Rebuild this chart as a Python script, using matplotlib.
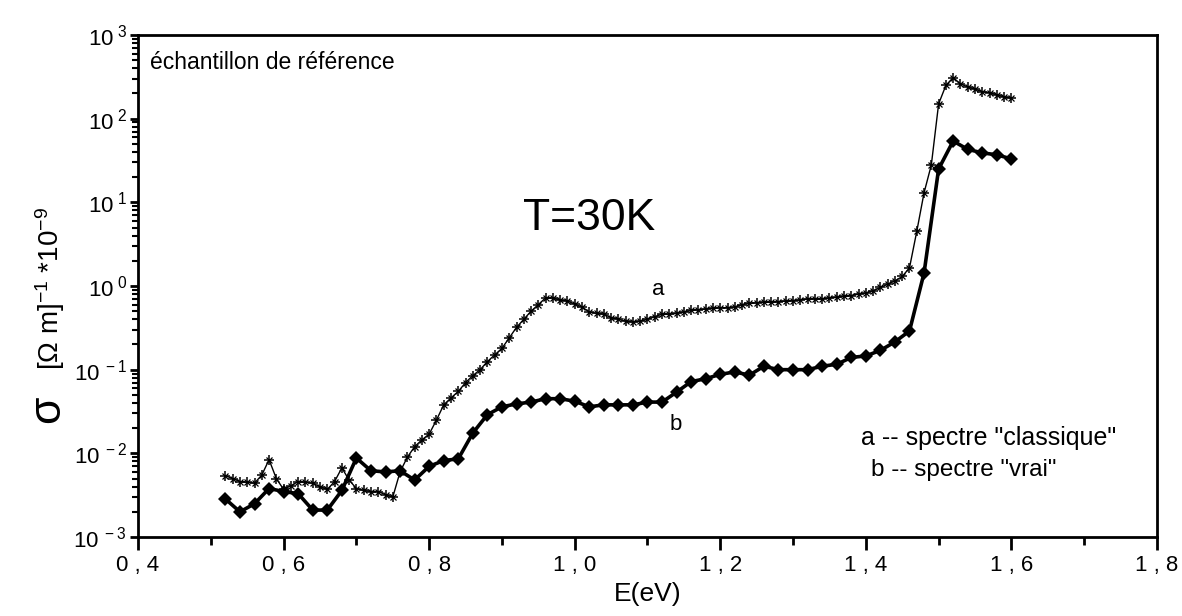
import numpy as np
import matplotlib
matplotlib.use("Agg")
import matplotlib.pyplot as plt
from matplotlib.ticker import FixedLocator, NullFormatter

plt.rcParams['font.family'] = ['Liberation Sans', 'DejaVu Sans']
plt.rcParams['mathtext.fontset'] = 'custom'
plt.rcParams['mathtext.rm'] = 'Liberation Sans'
plt.rcParams['mathtext.it'] = 'Liberation Sans:italic'

# ---- data ----
energy_a = [0.52, 0.53, 0.54, 0.55, 0.56, 0.57, 0.58, 0.59, 0.60, 0.61,
            0.62, 0.63, 0.64, 0.65, 0.66, 0.67, 0.68, 0.69, 0.70, 0.71,
            0.72, 0.73, 0.74, 0.75, 0.76, 0.77, 0.78, 0.79, 0.80, 0.81,
            0.82, 0.83, 0.84, 0.85, 0.86, 0.87, 0.88, 0.89, 0.90, 0.91,
            0.92, 0.93, 0.94, 0.95, 0.96, 0.97, 0.98, 0.99, 1.00, 1.01,
            1.02, 1.03, 1.04, 1.05, 1.06, 1.07, 1.08, 1.09, 1.10, 1.11,
            1.12, 1.13, 1.14, 1.15, 1.16, 1.17, 1.18, 1.19, 1.20, 1.21,
            1.22, 1.23, 1.24, 1.25, 1.26, 1.27, 1.28, 1.29, 1.30, 1.31,
            1.32, 1.33, 1.34, 1.35, 1.36, 1.37, 1.38, 1.39, 1.40, 1.41,
            1.42, 1.43, 1.44, 1.45, 1.46, 1.47, 1.48, 1.49, 1.50, 1.51,
            1.52, 1.53, 1.54, 1.55, 1.56, 1.57, 1.58, 1.59, 1.60]
sigma_a = [5.4e-3, 5.0e-3, 4.6e-3, 4.5e-3, 4.4e-3, 5.5e-3, 8.4e-3, 5.0e-3, 3.7e-3, 4.1e-3,
           4.6e-3, 4.5e-3, 4.4e-3, 4.0e-3, 3.7e-3, 4.6e-3, 6.7e-3, 4.8e-3, 3.8e-3, 3.6e-3,
           3.5e-3, 3.5e-3, 3.2e-3, 3.0e-3, 6.0e-3, 9.0e-3, 1.2e-2, 1.45e-2, 1.7e-2, 2.5e-2,
           3.8e-2, 4.6e-2, 5.5e-2, 7.0e-2, 8.5e-2, 0.10, 0.125, 0.15, 0.18, 0.24,
           0.32, 0.40, 0.50, 0.60, 0.72, 0.72, 0.68, 0.66, 0.61, 0.56,
           0.49, 0.47, 0.46, 0.42, 0.40, 0.38, 0.37, 0.38, 0.40, 0.43,
           0.46, 0.46, 0.47, 0.49, 0.51, 0.52, 0.53, 0.54, 0.55, 0.55,
           0.56, 0.60, 0.62, 0.63, 0.64, 0.64, 0.65, 0.66, 0.67, 0.68,
           0.70, 0.70, 0.70, 0.72, 0.73, 0.75, 0.77, 0.80, 0.82, 0.88,
           0.96, 1.05, 1.15, 1.30, 1.65, 4.5, 13.0, 28.0, 150.0, 250.0,
           310.0, 260.0, 240.0, 225.0, 210.0, 205.0, 192.0, 182.0, 175.0]

energy_b = [0.52, 0.54, 0.56, 0.58, 0.60, 0.62, 0.64, 0.66, 0.68, 0.70,
            0.72, 0.74, 0.76, 0.78, 0.80, 0.82, 0.84, 0.86, 0.88, 0.90,
            0.92, 0.94, 0.96, 0.98, 1.00, 1.02, 1.04, 1.06, 1.08, 1.10,
            1.12, 1.14, 1.16, 1.18, 1.20, 1.22, 1.24, 1.26, 1.28, 1.30,
            1.32, 1.34, 1.36, 1.38, 1.40, 1.42, 1.44, 1.46, 1.48, 1.50,
            1.52, 1.54, 1.56, 1.58, 1.60]
sigma_b = [2.85e-3, 2.0e-3, 2.5e-3, 3.8e-3, 3.5e-3, 3.3e-3, 2.1e-3, 2.1e-3, 3.6e-3, 8.8e-3,
           6.2e-3, 6.0e-3, 6.2e-3, 4.8e-3, 7.0e-3, 8.2e-3, 8.6e-3, 1.75e-2, 2.9e-2, 3.6e-2,
           3.9e-2, 4.1e-2, 4.5e-2, 4.5e-2, 4.2e-2, 3.6e-2, 3.8e-2, 3.8e-2, 3.8e-2, 4.1e-2,
           4.1e-2, 5.4e-2, 7.2e-2, 7.8e-2, 8.8e-2, 9.4e-2, 8.6e-2, 0.11, 0.10, 0.10,
           0.10, 0.11, 0.116, 0.14, 0.146, 0.17, 0.215, 0.29, 1.43, 25.0,
           54.0, 43.0, 39.0, 37.0, 33.0]

x_ticks = [0.4, 0.6, 0.8, 1.0, 1.2, 1.4, 1.6, 1.8]
x_tick_labels = ["0 , 4", "0 , 6", "0 , 8", "1 , 0", "1 , 2", "1 , 4", "1 , 6", "1 , 8"]
y_exponents = [-3, -2, -1, 0, 1, 2, 3]

# ---- figure ----
fig = plt.figure(figsize=(11.82, 6.16), dpi=100)
ax = fig.add_axes([0.1168, 0.1282, 0.8620, 0.8150])

ax.plot(energy_a, sigma_a, color='black', lw=1.0, marker='+', ms=7, mew=1.1, zorder=3)
ax.plot(energy_a, sigma_a, color='black', lw=0, marker='x', ms=4, mew=0.9, zorder=3)
ax.plot(energy_b, sigma_b, color='black', lw=2.6, marker='D', ms=7.5, mew=0, zorder=4)

ax.set_yscale('log')
ax.set_xlim(0.4, 1.8)
ax.set_ylim(1e-3, 1e3)

ax.xaxis.set_major_locator(FixedLocator(x_ticks))
ax.set_xticklabels(x_tick_labels)
ax.xaxis.set_minor_locator(FixedLocator([0.5, 0.7, 0.9, 1.1, 1.3, 1.5, 1.7]))

ax.yaxis.set_major_locator(FixedLocator([10.0 ** e for e in y_exponents]))
ax.set_yticklabels([r'$\mathregular{10^{\ %d}}$' % e for e in y_exponents])
minor_y = [m * 10.0 ** e for e in y_exponents[:-1] for m in range(2, 10)]
ax.yaxis.set_minor_locator(FixedLocator(minor_y))
ax.yaxis.set_minor_formatter(NullFormatter())

for s in ax.spines.values():
    s.set_linewidth(2.0)

ax.tick_params(axis='x', which='major', direction='out', length=9, width=2, labelsize=16, pad=4)
ax.tick_params(axis='x', which='minor', direction='out', length=6, width=2)
ax.tick_params(axis='y', which='major', direction='out', length=6, width=2, labelsize=16, pad=2)
ax.tick_params(axis='y', which='minor', direction='out', length=4, width=1.5)

ax.set_xlabel('E(eV)', fontsize=19, labelpad=4)

fig.text(0.040, 0.335, 'σ', fontsize=32, rotation=90, ha='center', va='center')
fig.text(0.042, 0.40, r'[Ω m]$^{-1}$ *10$^{-9}$', fontsize=20, rotation=90,
         ha='center', va='bottom')

ax.text(0.012, 0.968, 'échantillon de référence', transform=ax.transAxes, fontsize=16.5,
        ha='left', va='top')
ax.text(0.443, 0.634, 'T=30K', transform=ax.transAxes, fontsize=32, ha='center', va='center')
ax.text(0.511, 0.494, 'a', transform=ax.transAxes, fontsize=16, ha='center', va='center')
ax.text(0.528, 0.224, 'b', transform=ax.transAxes, fontsize=16, ha='center', va='center')
ax.text(0.710, 0.198, 'a -- spectre "classique"', transform=ax.transAxes, fontsize=18,
        ha='left', va='center')
ax.text(0.719, 0.134, 'b -- spectre "vrai"', transform=ax.transAxes, fontsize=17.5,
        ha='left', va='center')

fig.savefig('out.png', dpi=100)
